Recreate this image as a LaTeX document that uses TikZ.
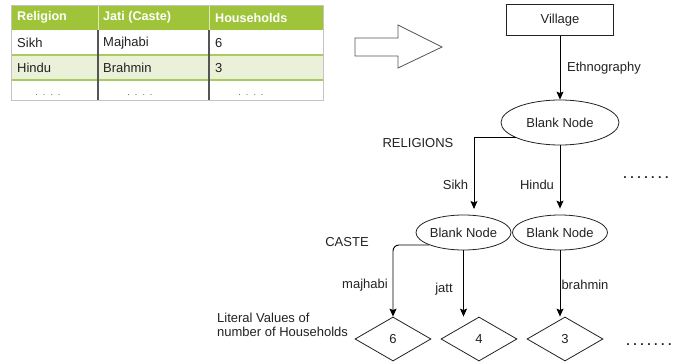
\documentclass[tikz,border=0pt]{standalone}
\usepackage{fontspec}
\setmainfont{Liberation Sans}
\usetikzlibrary{shapes.geometric,arrows.meta}
\definecolor{hdrgreen}{HTML}{9FC43A}
\definecolor{rowgreen}{HTML}{EAF1D8}
\definecolor{linegreen}{HTML}{A8CB5C}
\definecolor{colgray}{HTML}{555555}
\definecolor{edgegray}{HTML}{C4C4C4}
\definecolor{ink}{HTML}{222222}
\begin{document}
\begin{tikzpicture}[x=1pt,y=-1pt,
  font=\fontsize{13}{14}\selectfont, text=ink,
  cell/.style={anchor=west, inner sep=0pt},
  hdcell/.style={cell, font=\fontsize{12.6}{14}\selectfont\bfseries, text=white},
  tabdots/.style={inner sep=0pt, text=colgray, font=\fontsize{9}{10}\selectfont},
  shapeline/.style={draw=ink, line width=0.8pt},
  box/.style={shapeline, rectangle, minimum width=107pt, minimum height=31pt, inner sep=0pt},
  oval/.style={shapeline, ellipse, inner sep=0pt},
  lit/.style={shapeline, diamond, minimum width=76pt, minimum height=44pt, inner sep=0pt},
  lbl/.style={inner sep=0pt},
  arr/.style={draw=black, line width=0.9pt, -{Stealth[length=8pt,width=7pt,inset=1.5pt]}},
  bigarrow/.style={draw=colgray, line width=0.8pt, fill=white},
  morepts/.style={inner sep=0pt, font=\fontsize{12.5}{14}\selectfont\bfseries}
]
\useasboundingbox (0,0) rectangle (673,364);

% ---- table ----
\fill[hdrgreen] (11,5) rectangle (323,30);
\fill[white] (11,30) rectangle (323,55);
\fill[rowgreen] (11,55) rectangle (323,80);
\draw[linegreen, line width=1.2pt] (11,55) -- (323,55) (11,80) -- (323,80);
\draw[white!65!hdrgreen, line width=1pt] (98,5) -- (98,30) (209,5) -- (209,30);
\draw[colgray, line width=1.2pt] (98,30) -- (98,100) (209,30) -- (209,100);
\draw[edgegray, line width=0.8pt] (11,5) rectangle (323,100);

\node[hdcell] (hrel) at (17,17.5) {Religion};
\node[hdcell] (hjati) at (103,17.5) {Jati (Caste)};
\node[hdcell] (hhh) at (215,17.5) {Households};
\node[cell] (r1a) at (17,43) {Sikh};
\node[cell] (r1b) at (103,43) {Majhabi};
\node[cell] (r1c) at (215,43) {6};
\node[cell] (r2a) at (17,68) {Hindu};
\node[cell] (r2b) at (103,68) {Brahmin};
\node[cell] (r2c) at (215,68) {3};
\node[tabdots] (r3a) at (48,95) {.\ \ .\ \ .\ \ .};
\node[tabdots] (r3b) at (140,95) {.\ \ .\ \ .\ \ .};
\node[tabdots] (r3c) at (251,95) {.\ \ .\ \ .\ \ .};

% ---- hollow block arrow ----
\draw[bigarrow] (355,38) -- (398,38) -- (398,25) -- (442,47) -- (398,68)
  -- (398,56) -- (355,56) -- cycle;

% ---- graph ----
\node[box] (village) at (560,20) {Village};
\node[oval, minimum width=118pt, minimum height=45pt] (e1) at (560,122.5) {Blank Node};
\node[oval, minimum width=89pt, minimum height=35pt] (e2) at (463.5,232.5) {Blank Node};
\node[oval, minimum width=76pt, minimum height=35pt] (e3) at (560,232.5) {Blank Node};
\node[lit] (d6) at (393,339) {6};
\node[lit] (d4) at (479,339) {4};
\node[lit] (d3) at (565,339) {3};

\coordinate (sikhend) at (474,209);

\draw[arr] (village.south) -- (e1.north);
\draw[arr] (e1.199) -| (sikhend);
\draw[arr, shorten >=6pt] (e1.south) -- (e3.north);
\draw[arr, rounded corners=6pt] (e2.200) -| (d6.north);
\draw[arr] (e2.south) -- (e2.south |- d4.north);
\draw[arr] (e3.south) -- (e3.south |- d3.north);

% ---- labels ----
\node[lbl, anchor=west] (ethno) at (567,68) {Ethnography};
\node[lbl] (religions) at (418,143) {RELIGIONS};
\node[lbl] (sikh) at (455.5,185) {Sikh};
\node[lbl] (hindu) at (537,185) {Hindu};
\node[lbl] (caste) at (347,242) {CASTE};
\node[lbl] (majhabi) at (365,285) {majhabi};
\node[lbl] (jatt) at (444,289) {jatt};
\node[lbl] (brahmin) at (585,285) {brahmin};
\node[lbl, anchor=west, align=left] (literal) at (217,325)
  {Literal Values of\\number of Households};
\node[morepts] (more1) at (646,178) {.\ .\ .\ .\ .\ .\ .};
\node[morepts] (more2) at (649,345) {.\ .\ .\ .\ .\ .\ .};
\end{tikzpicture}
\end{document}
